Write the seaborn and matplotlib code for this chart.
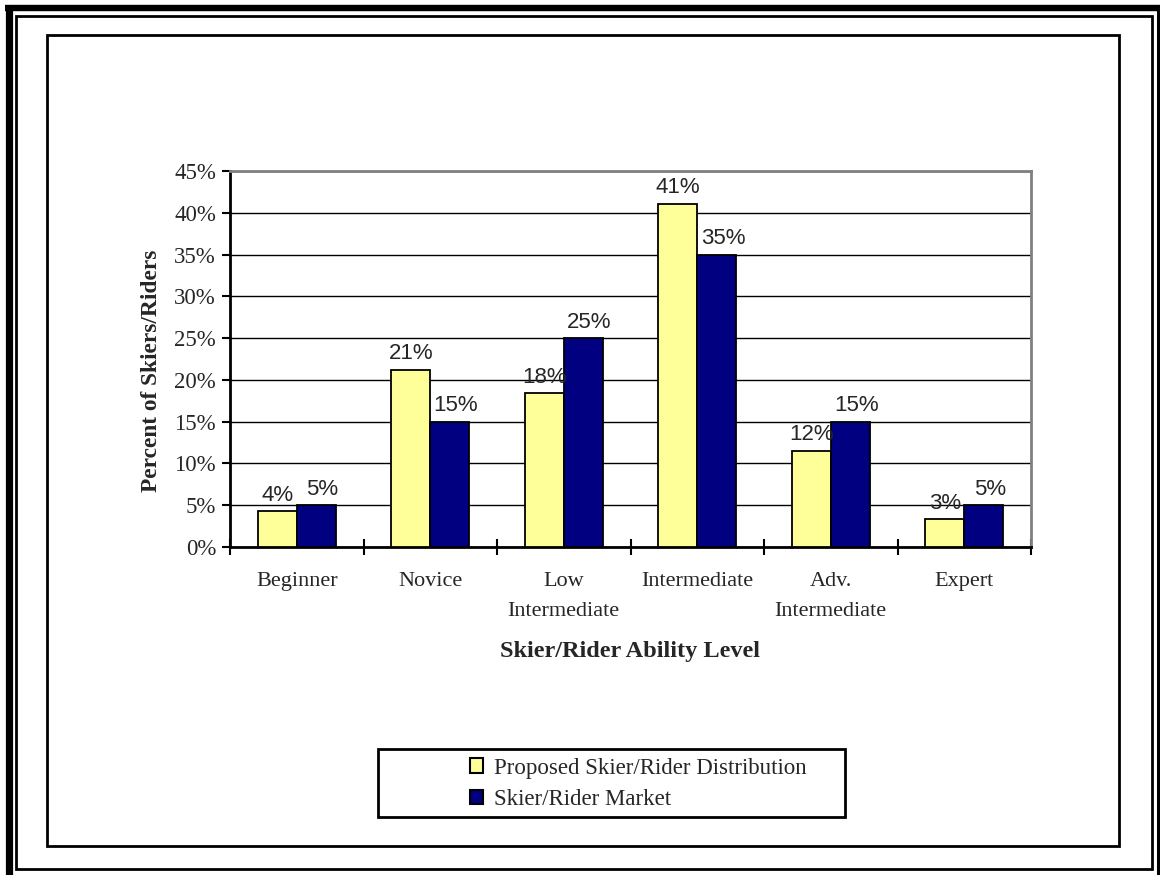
import numpy as np
import pandas as pd
import seaborn as sns
import matplotlib
matplotlib.use("Agg")
import matplotlib.pyplot as plt
from matplotlib.lines import Line2D
from matplotlib.patches import Rectangle

categories = ["Beginner", "Novice", "Low\nIntermediate", "Intermediate", "Adv.\nIntermediate", "Expert"]
proposed = [4.3, 21.2, 18.4, 41.1, 11.5, 3.3]
market = [5.0, 15.0, 25.0, 35.0, 15.0, 5.0]
proposed_labels = ["4%", "21%", "18%", "41%", "12%", "3%"]
market_labels = ["5%", "15%", "25%", "35%", "15%", "5%"]
series_names = ["Proposed Skier/Rider Distribution", "Skier/Rider Market"]
yticks = [0, 5, 10, 15, 20, 25, 30, 35, 40, 45]

df = pd.DataFrame({
    "Category": categories * 2,
    "Series": [series_names[0]] * len(categories) + [series_names[1]] * len(categories),
    "Value": proposed + market,
})

sns.set_theme(style="white")
plt.rcParams['font.family'] = ['Liberation Serif', 'DejaVu Serif']

W, H = 1160, 875
fig = plt.figure(figsize=(W / 100, H / 100), dpi=100)
fig.patch.set_facecolor("white")

def fx(x):
    return x / W

def fy(y):
    return 1 - y / H

ax = fig.add_axes([fx(230), fy(547), fx(1031) - fx(230), fy(171) - fy(547)])

palette = {series_names[0]: "#FFFF99", series_names[1]: "#000080"}
sns.barplot(data=df, x="Category", y="Value", hue="Series", palette=palette,
            width=0.585, gap=0, edgecolor="black", linewidth=1.3, saturation=1,
            ax=ax, legend=True, zorder=3)

ax.set_ylim(0, 45)
ax.set_xlim(-0.5, len(categories) - 0.5)
ax.set_yticks(yticks)
ax.set_yticklabels([f"{v}%" for v in yticks], fontsize=16.5, fontfamily="Liberation Serif")
ax.set_xticks(np.arange(len(categories)))
ax.set_xticklabels(categories, fontsize=16, fontfamily="Liberation Serif",
                   linespacing=1.8, va="top")
ax.tick_params(axis="x", length=0, pad=18)
ax.tick_params(axis="y", length=6, width=1.5, color="black", direction="out", left=True, pad=4)

# category boundary ticks crossing the axis
ax.set_xticks(np.arange(len(categories) + 1) - 0.5, minor=True)
ax.tick_params(axis="x", which="minor", length=12, width=1.5, direction="inout", bottom=True, color="black")

ax.yaxis.grid(True, color="black", linewidth=1.0)
ax.xaxis.grid(False)
ax.set_axisbelow(True)
for s in ["left", "bottom"]:
    ax.spines[s].set_color("black")
    ax.spines[s].set_linewidth(2)
for s in ["top", "right"]:
    ax.spines[s].set_color("#808080")
    ax.spines[s].set_linewidth(2)
    ax.spines[s].set_visible(True)

ax.set_xlabel("Skier/Rider Ability Level", fontsize=17.5, fontweight="bold",
              fontfamily="Liberation Serif", labelpad=14)
ax.set_ylabel("Percent of Skiers/Riders", fontsize=16.8, fontweight="bold",
              fontfamily="Liberation Serif")
ax.yaxis.set_label_coords(-0.085, 0.468)

containers = ax.containers
ax.bar_label(containers[0], labels=proposed_labels, padding=4, fontsize=16,
             fontfamily="Liberation Sans")
texts = ax.bar_label(containers[1], labels=market_labels, padding=4, fontsize=16,
                     fontfamily="Liberation Sans")
for t in texts:
    t.xyann = (4.5, 4)

handles, labels = ax.get_legend_handles_labels()
ax.get_legend().remove()
leg = fig.legend(handles, labels, loc="upper left", bbox_to_anchor=(fx(449), fy(737)),
                 frameon=False, handlelength=0.6, handleheight=0.6,
                 handletextpad=0.45, labelspacing=0.45,
                 prop={"family": "Liberation Serif", "size": 16.5})
for h in leg.legend_handles:
    h.set_edgecolor("black")
    h.set_linewidth(1.5)

# legend box
fig.add_artist(Rectangle((fx(378), fy(817)), fx(845) - fx(378), fy(749) - fy(817),
                         transform=fig.transFigure, fill=False, edgecolor="black", linewidth=2))

# inner chart border
fig.add_artist(Rectangle((fx(47), fy(846)), fx(1119) - fx(47), fy(35) - fy(846),
                         transform=fig.transFigure, fill=False, edgecolor="black", linewidth=2))

# thin outer frame
fig.add_artist(Rectangle((fx(15.5), fy(869)), fx(1152) - fx(15.5), fy(15.5) - fy(869),
                         transform=fig.transFigure, fill=False, edgecolor="black", linewidth=2))

# thick outer lines (left, top, right)
fig.add_artist(Line2D([fx(8.5), fx(8.5)], [fy(5), 0], transform=fig.transFigure,
                      color="black", linewidth=5.2, solid_capstyle="butt"))
fig.add_artist(Line2D([fx(5), 1], [fy(8), fy(8)], transform=fig.transFigure,
                      color="black", linewidth=4.6, solid_capstyle="butt"))
fig.add_artist(Line2D([fx(1158), fx(1158)], [fy(5), 0], transform=fig.transFigure,
                      color="black", linewidth=2.2, solid_capstyle="butt"))

fig.savefig("out.png", dpi=100)
